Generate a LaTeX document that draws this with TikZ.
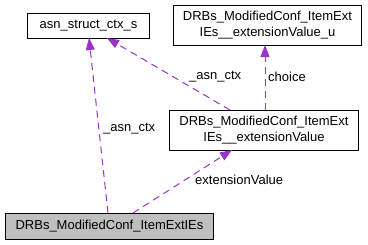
\documentclass[tikz,border=0pt]{standalone}
\usepackage{fontspec}
\setmainfont{Liberation Sans}
\usetikzlibrary{arrows.meta}
\definecolor{edgepurple}{HTML}{9A32CD}
\definecolor{focusgray}{HTML}{BFBFBF}
\begin{document}
\begin{tikzpicture}[x=1bp,y=-1bp,
  every node/.style={font=\fontsize{13bp}{16bp}\selectfont, inner sep=0pt},
  classbox/.style={draw=black, line width=1bp, fill=white, anchor=north west, align=center},
  focusbox/.style={classbox, fill=focusgray},
  uses/.style={draw=edgepurple, line width=1bp, dash pattern=on 7bp off 5bp,
    -{Triangle[length=12bp,width=9bp,fill=edgepurple]}},
  lbl/.style={anchor=west}]
  \useasboundingbox (0,0) rectangle (368,245);

  % class boxes
  \node[classbox, minimum width=122bp, minimum height=25bp] (ctx) at (27,13) {asn\_struct\_ctx\_s};
  \node[classbox, minimum width=188bp, minimum height=40bp] (valu) at (173,5)
    {DRBs\_ModifiedConf\_ItemExt\\IEs\_\_extensionValue\_u};
  \node[classbox, minimum width=189bp, minimum height=40bp] (val) at (169,110)
    {DRBs\_ModifiedConf\_ItemExt\\IEs\_\_extensionValue};
  \node[focusbox, minimum width=208bp, minimum height=26bp] (ies) at (5,213)
    {DRBs\_ModifiedConf\_ItemExtIEs};

  % anchor points on the box edges
  \coordinate (iesA) at (108,213);
  \coordinate (iesB) at (133,213);
  \coordinate (ctxA) at (89,38);
  \coordinate (ctxB) at (107,38);
  \coordinate (valB) at (232,150);
  \coordinate (valA) at (230,110);
  \coordinate (valC) at (265,110);
  \coordinate (valuB) at (265,45);

  % member relations
  \draw[uses] (iesA) -- (ctxA);
  \draw[uses] (iesB) -- (valB);
  \draw[uses] (valA) -- (ctxB);
  \draw[uses] (valC) -- (valuB);

  % member names
  \node[lbl] (l1) at (103,129) {\_asn\_ctx};
  \node[lbl] (l2) at (195,180) {extensionValue};
  \node[lbl] (l3) at (189,77) {\_asn\_ctx};
  \node[lbl] (l4) at (268,77) {choice};
\end{tikzpicture}
\end{document}
